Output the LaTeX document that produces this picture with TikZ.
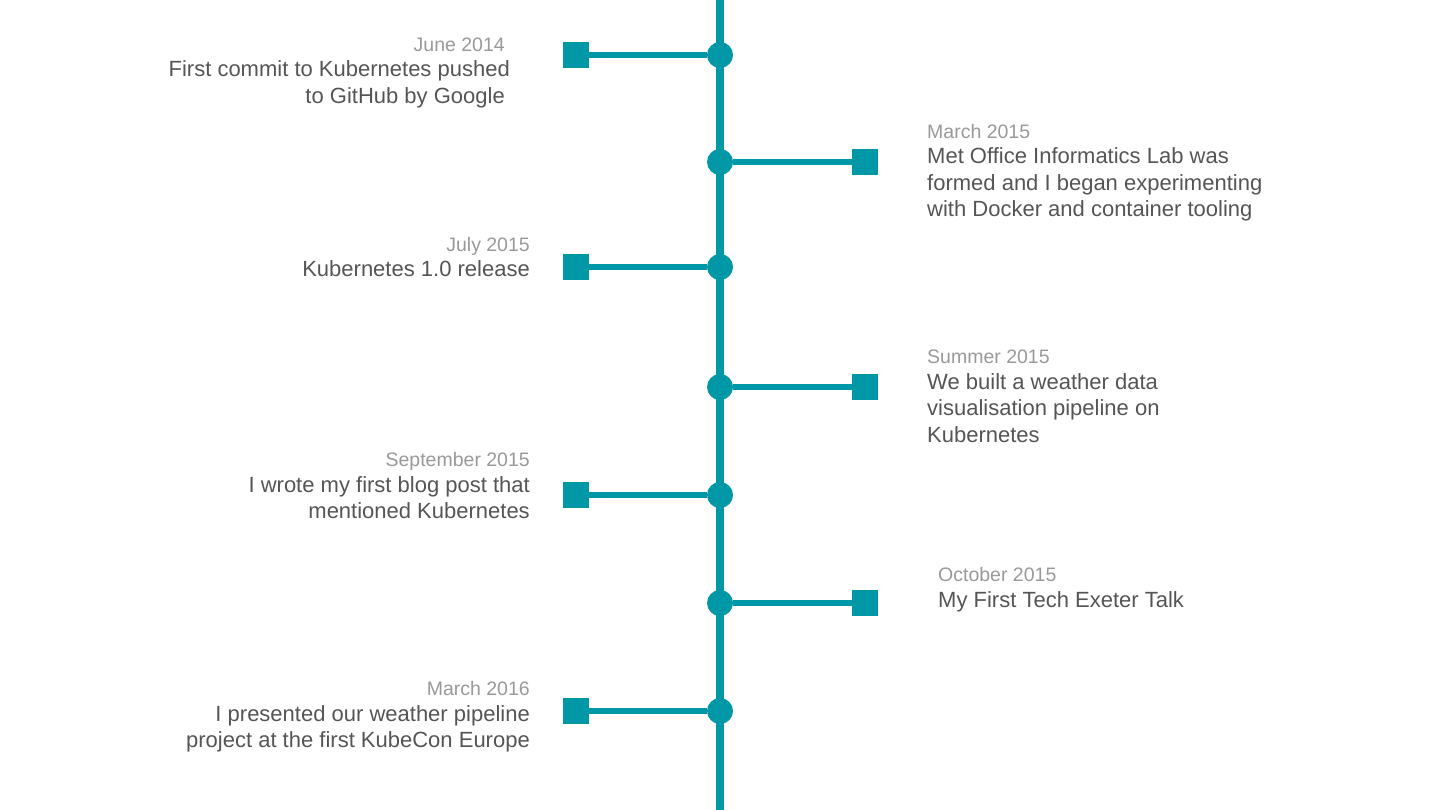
\documentclass[tikz,border=0pt]{standalone}
\usepackage{fontspec}
\setmainfont{Liberation Sans}
\usepackage{tikz}
\usetikzlibrary{positioning}

\definecolor{teal}{HTML}{0097A7}
\definecolor{dategray}{HTML}{999999}
\definecolor{bodygray}{HTML}{555555}

\tikzset{
  dot/.style={circle, fill=teal, inner sep=0pt, minimum size=26pt},
  marker/.style={rectangle, fill=teal, inner sep=0pt, minimum size=26pt},
  branch/.style={draw=teal, line width=6pt},
  datetext/.style={inner sep=0pt, text=dategray, font=\fontsize{19.5}{24}\selectfont},
  bodytext/.style={inner sep=0pt, text=bodygray, font=\fontsize{22}{26.5}\selectfont}
}

\begin{document}
\begin{tikzpicture}[x=1pt, y=-1pt]
        \useasboundingbox (0,0) rectangle (1440,810);

        % Draw the main timeline
        \draw[teal, line width=8pt] (720,0) -- (720,810);

        % Draw the dots and markers
        \foreach \n/\y/\x in {a/55/576, b/162/865, c/267/576, d/387/865, e/495/576, f/603/865, g/711/576} {
            \node[dot] (dot\n) at (720,\y) {};
            \node[marker] (mark\n) at (\x,\y) {};
            \draw[branch] (dot\n) -- (mark\n);
        }

        % Label the events on the left (base = last line)
        \node[datetext, anchor=base east] (datea) at (505,52) {June 2014};
        \node[bodytext, anchor=base east, align=right] (bodya) at (510,103.5) {First commit to Kubernetes pushed\\to GitHub by Google\kern5pt};
        \node[datetext, anchor=base east] (datec) at (530,251.5) {July 2015};
        \node[bodytext, anchor=base east, align=right] (bodyc) at (530,277) {Kubernetes 1.0 release};
        \node[datetext, anchor=base east] (datee) at (530,466.5) {September 2015};
        \node[bodytext, anchor=base east, align=right] (bodye) at (530,518.5) {I wrote my first blog post that\\mentioned Kubernetes};
        \node[datetext, anchor=base east] (dateg) at (530,695.5) {March 2016};
        \node[bodytext, anchor=base east, align=right] (bodyg) at (530,747.5) {I presented our weather pipeline\\project at the first KubeCon Europe};

        % Label the events on the right
        \node[datetext, anchor=base west] (dateb) at (927,138.5) {March 2015};
        \node[bodytext, anchor=base west, align=left] (bodyb) at (927,217) {Met Office Informatics Lab was\\formed and I began experimenting\\with Docker and container tooling};
        \node[datetext, anchor=base west] (dated) at (927,363.5) {Summer 2015};
        \node[bodytext, anchor=base west, align=left] (bodyd) at (927,442) {We built a weather data\\visualisation pipeline on\\Kubernetes};
        \node[datetext, anchor=base west] (datef) at (938,581.5) {October 2015};
        \node[bodytext, anchor=base west, align=left] (bodyf) at (938,607) {My First Tech Exeter Talk};
    \end{tikzpicture}
\end{document}
